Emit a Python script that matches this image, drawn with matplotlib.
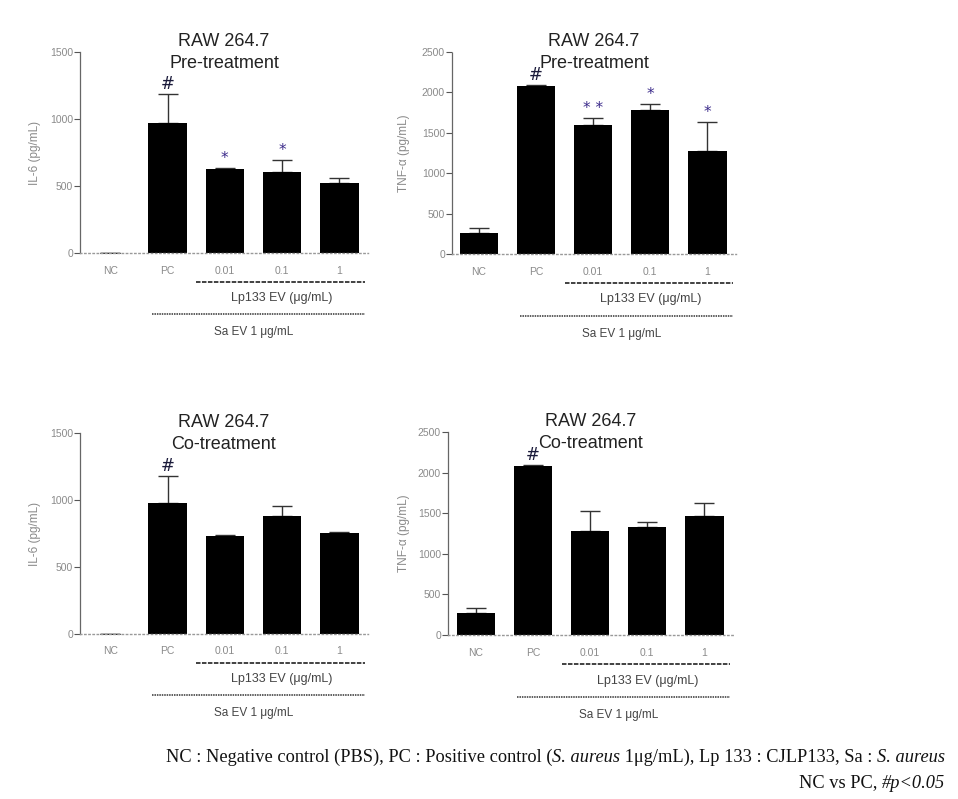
import matplotlib
matplotlib.use("Agg")
import matplotlib.pyplot as plt

W, H = 958, 799

groups = ["NC", "PC", "0.01", "0.1", "1"]

il6_pre = [0, 970, 627, 604, 522]
il6_pre_err = [0, 217, 5, 90, 38]
tnf_pre = [260, 2079, 1597, 1782, 1275]
tnf_pre_err = [62, 15, 86, 74, 359]

il6_co = [0, 978, 731, 881, 756]
il6_co_err = [0, 201, 5, 74, 5]
tnf_co = [271, 2081, 1281, 1330, 1466]
tnf_co_err = [61, 14, 246, 62, 160]

pre_il6_marks = ["", "#", "*", "*", ""]
pre_tnf_marks = ["", "#", "* *", "*", "*"]
co_marks = ["", "#", "", "", ""]

il6_ticks = [0, 500, 1000, 1500]
tnf_ticks = [0, 500, 1000, 1500, 2000, 2500]

SANS = "Liberation Sans"
SERIF = "Liberation Serif"
GRAY = "#8a8a8a"


def make_axes(fig, left, right, top, bottom, xmin):
    ax = fig.add_axes([left / W, 1 - bottom / H, (right - left) / W, (bottom - top) / H])
    ax.set_xlim(xmin, 4.5)
    return ax


def draw_panel(ax, values, errors, marks, ymax, yticks, ylabel, subtitle, ylabel_x):
    x = list(range(len(groups)))
    ax.bar(x, values, width=0.67, color="black", zorder=2)
    ax.errorbar(x, values, yerr=[[0] * len(errors), errors], fmt="none",
                ecolor="#333333", elinewidth=1, capsize=7, capthick=1, zorder=1)
    ax.set_ylim(0, ymax)
    ax.set_yticks(yticks)
    ax.set_yticklabels([str(t) for t in yticks], fontsize=7.5, color=GRAY, family=SANS)
    ax.set_xticks(x)
    ax.set_xticklabels(groups, fontsize=7.5, color=GRAY, family=SANS)
    ax.tick_params(axis="x", length=0, pad=9)
    ax.tick_params(axis="y", length=4, width=0.8, color="#555555", pad=1)

    for side in ["top", "right"]:
        ax.spines[side].set_visible(False)
    ax.spines["left"].set_color("#666666")
    ax.spines["left"].set_linestyle((0, (2, 1)))
    ax.spines["left"].set_linewidth(0.9)
    ax.spines["bottom"].set_color("#999999")
    ax.spines["bottom"].set_linestyle((0, (1, 2)))
    ax.spines["bottom"].set_linewidth(1)

    ax.set_ylabel(ylabel, fontsize=8.5, color=GRAY, family=SANS)
    ax.yaxis.set_label_coords(ylabel_x, 0.5)

    ax.text(0.5, 1.05, "RAW 264.7", transform=ax.transAxes, ha="center", va="center",
            fontsize=13, family=SANS, color="#222222")
    ax.text(0.5, 0.945, subtitle, transform=ax.transAxes, ha="center", va="center",
            fontsize=13, family=SANS, color="#222222")

    for xi, v, e, m in zip(x, values, errors, marks):
        if not m:
            continue
        if m == "#":
            ax.annotate(m, (xi, v + e), xytext=(0, 7), textcoords="offset points",
                        ha="center", va="center", fontsize=12, color="#1a1a3a", family="DejaVu Sans")
        else:
            ax.annotate(m, (xi, v + e), xytext=(0, 7), textcoords="offset points",
                        ha="center", va="center", fontsize=11, color="#3b2a8a", family="DejaVu Sans")

    tr = ax.get_xaxis_transform()
    ax.plot([1.5, 4.45], [-0.142, -0.142], transform=tr, clip_on=False,
            color="#333333", linestyle=(0, (2.5, 0.8)), linewidth=1.3)
    ax.text(3.0, -0.225, "Lp133 EV (μg/mL)", transform=tr, ha="center", va="center",
            fontsize=9, color="#444444", family=SANS)
    ax.plot([0.72, 4.45], [-0.305, -0.305], transform=tr, clip_on=False,
            color="#333333", linestyle=(0, (1, 0.6)), linewidth=1.1)
    ax.text(2.5, -0.395, "Sa EV 1 μg/mL", transform=tr, ha="center", va="center",
            fontsize=8.5, color="#444444", family=SANS)


def draw_line(fig, pieces, y, right, size=13.2):
    renderer = fig.canvas.get_renderer()
    texts = []
    for s, italic in pieces:
        t = fig.text(0, 1 - y / H, s, fontsize=size, family=SERIF,
                     style="italic" if italic else "normal", va="center", ha="left",
                     color="#111111")
        texts.append(t)
    widths = [t.get_window_extent(renderer).width for t in texts]
    x0 = right - sum(widths)
    for t, w in zip(texts, widths):
        t.set_x(x0 / W)
        x0 += w


fig = plt.figure(figsize=(W / 100, H / 100), dpi=100)

ax1 = make_axes(fig, 80, 368, 52, 253, -0.53)
draw_panel(ax1, il6_pre, il6_pre_err, pre_il6_marks, 1500, il6_ticks,
           "IL-6 (pg/mL)", "Pre-treatment", -0.135)

ax2 = make_axes(fig, 452, 736, 52, 254, -0.47)
draw_panel(ax2, tnf_pre, tnf_pre_err, pre_tnf_marks, 2500, tnf_ticks,
           "TNF-α (pg/mL)", "Pre-treatment", -0.148)

ax3 = make_axes(fig, 80, 368, 433, 634, -0.53)
draw_panel(ax3, il6_co, il6_co_err, co_marks, 1500, il6_ticks,
           "IL-6 (pg/mL)", "Co-treatment", -0.135)

ax4 = make_axes(fig, 448, 733, 432, 635, -0.49)
draw_panel(ax4, tnf_co, tnf_co_err, co_marks, 2500, tnf_ticks,
           "TNF-α (pg/mL)", "Co-treatment", -0.133)

line1 = [
    ("NC : Negative control (PBS), PC : Positive control (", False),
    ("S. aureus", True),
    (" 1μg/mL), Lp 133 : CJLP133, Sa : ", False),
    ("S. aureus", True),
]
line2 = [
    ("NC vs PC, ", False),
    ("#p<0.05", True),
]
fig.canvas.draw()
draw_line(fig, line1, 757, right=945)
draw_line(fig, line2, 783, right=945)

fig.savefig("out.png", dpi=100)
